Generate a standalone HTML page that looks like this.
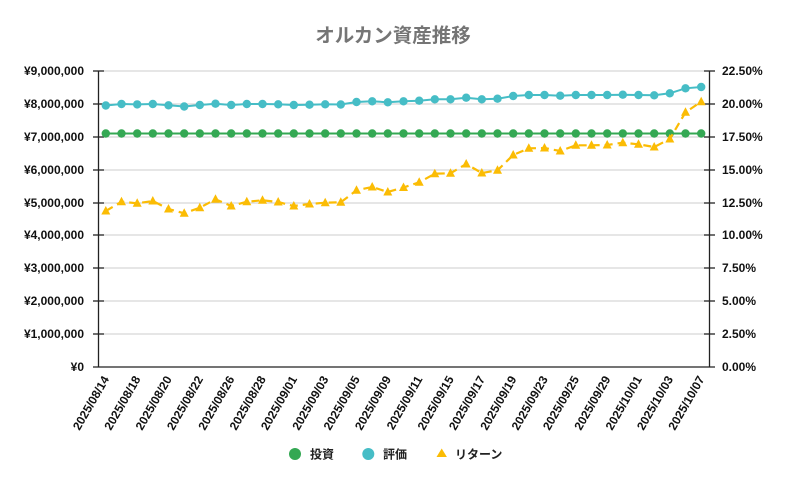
<!DOCTYPE html>
<html><head><meta charset="utf-8"><style>
html,body{margin:0;padding:0;background:#fff;}
svg{display:block;}
text{font-family:"Liberation Sans","Noto Sans CJK JP",sans-serif;}
</style></head><body>
<svg width="786" height="485" viewBox="0 0 786 485" xmlns="http://www.w3.org/2000/svg">
<rect width="786" height="485" fill="#fff"/>
<text x="393" y="42" text-anchor="middle" font-size="19.5" font-weight="bold" fill="#757575" style="font-family:'Noto Sans CJK JP',sans-serif">オルカン資産推移</text>
<g stroke="#cccccc" stroke-width="1">
<line x1="98" y1="71" x2="710" y2="71"/><line x1="98" y1="104" x2="710" y2="104"/><line x1="98" y1="137" x2="710" y2="137"/><line x1="98" y1="170" x2="710" y2="170"/><line x1="98" y1="203" x2="710" y2="203"/><line x1="98" y1="235" x2="710" y2="235"/><line x1="98" y1="268" x2="710" y2="268"/><line x1="98" y1="301" x2="710" y2="301"/><line x1="98" y1="334" x2="710" y2="334"/>
</g>
<g stroke="#222" stroke-width="1.3">
<line x1="98.5" y1="71" x2="98.5" y2="367"/><line x1="709.5" y1="71" x2="709.5" y2="367"/><line x1="93" y1="367" x2="715" y2="367"/>
<line x1="93" y1="71" x2="104" y2="71"/><line x1="93" y1="104" x2="104" y2="104"/><line x1="93" y1="137" x2="104" y2="137"/><line x1="93" y1="170" x2="104" y2="170"/><line x1="93" y1="203" x2="104" y2="203"/><line x1="93" y1="235" x2="104" y2="235"/><line x1="93" y1="268" x2="104" y2="268"/><line x1="93" y1="301" x2="104" y2="301"/><line x1="93" y1="334" x2="104" y2="334"/>
<line x1="704" y1="71" x2="715" y2="71"/><line x1="704" y1="104" x2="715" y2="104"/><line x1="704" y1="137" x2="715" y2="137"/><line x1="704" y1="170" x2="715" y2="170"/><line x1="704" y1="203" x2="715" y2="203"/><line x1="704" y1="235" x2="715" y2="235"/><line x1="704" y1="268" x2="715" y2="268"/><line x1="704" y1="301" x2="715" y2="301"/><line x1="704" y1="334" x2="715" y2="334"/>
</g>
<g font-size="12" font-weight="bold" fill="#111" text-anchor="end">
<text x="84" y="75">¥9,000,000</text><text x="84" y="108">¥8,000,000</text><text x="84" y="141">¥7,000,000</text><text x="84" y="174">¥6,000,000</text><text x="84" y="207">¥5,000,000</text><text x="84" y="239">¥4,000,000</text><text x="84" y="272">¥3,000,000</text><text x="84" y="305">¥2,000,000</text><text x="84" y="338">¥1,000,000</text><text x="84" y="371">¥0</text>
</g>
<g font-size="12" font-weight="bold" fill="#111">
<text x="722" y="75">22.50%</text><text x="722" y="108">20.00%</text><text x="722" y="141">17.50%</text><text x="722" y="174">15.00%</text><text x="722" y="207">12.50%</text><text x="722" y="239">10.00%</text><text x="722" y="272">7.50%</text><text x="722" y="305">5.00%</text><text x="722" y="338">2.50%</text><text x="722" y="371">0.00%</text>
</g>
<g font-size="12" font-weight="bold" fill="#111" text-anchor="end">
<text x="109.5" y="379" transform="rotate(-60 109.5 379)">2025/08/14</text>
<text x="140.9" y="379" transform="rotate(-60 140.9 379)">2025/08/18</text>
<text x="172.2" y="379" transform="rotate(-60 172.2 379)">2025/08/20</text>
<text x="203.5" y="379" transform="rotate(-60 203.5 379)">2025/08/22</text>
<text x="234.9" y="379" transform="rotate(-60 234.9 379)">2025/08/26</text>
<text x="266.2" y="379" transform="rotate(-60 266.2 379)">2025/08/28</text>
<text x="297.5" y="379" transform="rotate(-60 297.5 379)">2025/09/01</text>
<text x="328.9" y="379" transform="rotate(-60 328.9 379)">2025/09/03</text>
<text x="360.2" y="379" transform="rotate(-60 360.2 379)">2025/09/05</text>
<text x="391.5" y="379" transform="rotate(-60 391.5 379)">2025/09/09</text>
<text x="422.9" y="379" transform="rotate(-60 422.9 379)">2025/09/11</text>
<text x="454.2" y="379" transform="rotate(-60 454.2 379)">2025/09/15</text>
<text x="485.5" y="379" transform="rotate(-60 485.5 379)">2025/09/17</text>
<text x="516.9" y="379" transform="rotate(-60 516.9 379)">2025/09/19</text>
<text x="548.2" y="379" transform="rotate(-60 548.2 379)">2025/09/23</text>
<text x="579.5" y="379" transform="rotate(-60 579.5 379)">2025/09/25</text>
<text x="610.9" y="379" transform="rotate(-60 610.9 379)">2025/09/29</text>
<text x="642.2" y="379" transform="rotate(-60 642.2 379)">2025/10/01</text>
<text x="673.5" y="379" transform="rotate(-60 673.5 379)">2025/10/03</text>
<text x="704.9" y="379" transform="rotate(-60 704.9 379)">2025/10/07</text>
</g>
<!-- green invest -->
<polyline fill="none" stroke="#34A853" stroke-width="2" points="105.8,133.5 701.2,133.5"/>
<g fill="#34A853">
<circle cx="105.8" cy="133.5" r="4.2"/><circle cx="121.5" cy="133.5" r="4.2"/><circle cx="137.2" cy="133.5" r="4.2"/><circle cx="152.8" cy="133.5" r="4.2"/><circle cx="168.5" cy="133.5" r="4.2"/><circle cx="184.2" cy="133.5" r="4.2"/><circle cx="199.8" cy="133.5" r="4.2"/><circle cx="215.5" cy="133.5" r="4.2"/><circle cx="231.2" cy="133.5" r="4.2"/><circle cx="246.8" cy="133.5" r="4.2"/><circle cx="262.5" cy="133.5" r="4.2"/><circle cx="278.2" cy="133.5" r="4.2"/><circle cx="293.8" cy="133.5" r="4.2"/><circle cx="309.5" cy="133.5" r="4.2"/><circle cx="325.2" cy="133.5" r="4.2"/><circle cx="340.8" cy="133.5" r="4.2"/><circle cx="356.5" cy="133.5" r="4.2"/><circle cx="372.2" cy="133.5" r="4.2"/><circle cx="387.8" cy="133.5" r="4.2"/><circle cx="403.5" cy="133.5" r="4.2"/><circle cx="419.2" cy="133.5" r="4.2"/><circle cx="434.8" cy="133.5" r="4.2"/><circle cx="450.5" cy="133.5" r="4.2"/><circle cx="466.2" cy="133.5" r="4.2"/><circle cx="481.8" cy="133.5" r="4.2"/><circle cx="497.5" cy="133.5" r="4.2"/><circle cx="513.2" cy="133.5" r="4.2"/><circle cx="528.8" cy="133.5" r="4.2"/><circle cx="544.5" cy="133.5" r="4.2"/><circle cx="560.2" cy="133.5" r="4.2"/><circle cx="575.8" cy="133.5" r="4.2"/><circle cx="591.5" cy="133.5" r="4.2"/><circle cx="607.2" cy="133.5" r="4.2"/><circle cx="622.8" cy="133.5" r="4.2"/><circle cx="638.5" cy="133.5" r="4.2"/><circle cx="654.2" cy="133.5" r="4.2"/><circle cx="669.8" cy="133.5" r="4.2"/><circle cx="685.5" cy="133.5" r="4.2"/><circle cx="701.2" cy="133.5" r="4.2"/>
</g>
<!-- teal valuation -->
<polyline fill="none" stroke="#46BDC6" stroke-width="2" points="105.8,105.5 121.5,104 137.2,104.4 152.8,104 168.5,105.3 184.2,106.5 199.8,105 215.5,103.7 231.2,105 246.8,104 262.5,104 278.2,104.3 293.8,105 309.5,104.7 325.2,104.3 340.8,104.5 356.5,102 372.2,101.3 387.8,102.3 403.5,101.3 419.2,100.7 434.8,99.3 450.5,99.3 466.2,97.7 481.8,99.3 497.5,98.7 513.2,96 528.8,95 544.5,95 560.2,95.7 575.8,95 591.5,95 607.2,95 622.8,94.7 638.5,95 654.2,95.3 669.8,93.3 685.5,88.3 701.2,87"/>
<g fill="#46BDC6">
<circle cx="105.8" cy="105.5" r="4.2"/><circle cx="121.5" cy="104" r="4.2"/><circle cx="137.2" cy="104.4" r="4.2"/><circle cx="152.8" cy="104" r="4.2"/><circle cx="168.5" cy="105.3" r="4.2"/><circle cx="184.2" cy="106.5" r="4.2"/><circle cx="199.8" cy="105" r="4.2"/><circle cx="215.5" cy="103.7" r="4.2"/><circle cx="231.2" cy="105" r="4.2"/><circle cx="246.8" cy="104" r="4.2"/><circle cx="262.5" cy="104" r="4.2"/><circle cx="278.2" cy="104.3" r="4.2"/><circle cx="293.8" cy="105" r="4.2"/><circle cx="309.5" cy="104.7" r="4.2"/><circle cx="325.2" cy="104.3" r="4.2"/><circle cx="340.8" cy="104.5" r="4.2"/><circle cx="356.5" cy="102" r="4.2"/><circle cx="372.2" cy="101.3" r="4.2"/><circle cx="387.8" cy="102.3" r="4.2"/><circle cx="403.5" cy="101.3" r="4.2"/><circle cx="419.2" cy="100.7" r="4.2"/><circle cx="434.8" cy="99.3" r="4.2"/><circle cx="450.5" cy="99.3" r="4.2"/><circle cx="466.2" cy="97.7" r="4.2"/><circle cx="481.8" cy="99.3" r="4.2"/><circle cx="497.5" cy="98.7" r="4.2"/><circle cx="513.2" cy="96" r="4.2"/><circle cx="528.8" cy="95" r="4.2"/><circle cx="544.5" cy="95" r="4.2"/><circle cx="560.2" cy="95.7" r="4.2"/><circle cx="575.8" cy="95" r="4.2"/><circle cx="591.5" cy="95" r="4.2"/><circle cx="607.2" cy="95" r="4.2"/><circle cx="622.8" cy="94.7" r="4.2"/><circle cx="638.5" cy="95" r="4.2"/><circle cx="654.2" cy="95.3" r="4.2"/><circle cx="669.8" cy="93.3" r="4.2"/><circle cx="685.5" cy="88.3" r="4.2"/><circle cx="701.2" cy="87" r="4.2"/>
</g>
<!-- yellow return -->
<polyline fill="none" stroke="#FBBC04" stroke-width="2.2" stroke-dasharray="8,5" points="105.8,211 121.5,201.7 137.2,203.3 152.8,201 168.5,209 184.2,213.3 199.8,207.7 215.5,199.3 231.2,206 246.8,201.7 262.5,200.3 278.2,202 293.8,206 309.5,204 325.2,202.7 340.8,202.3 356.5,190.3 372.2,187 387.8,192 403.5,187.5 419.2,182.3 434.8,173.7 450.5,173.3 466.2,164 481.8,173 497.5,170.3 513.2,155 528.8,148.3 544.5,148 560.2,151 575.8,145.3 591.5,145.3 607.2,145 622.8,142.7 638.5,144.3 654.2,147 669.8,139 685.5,112.3 701.2,101.7"/>
<g fill="#FBBC04">
<polygon points="105.8,206 101.3,214.5 110.3,214.5"/>
<polygon points="121.5,196.7 117,205.2 126,205.2"/>
<polygon points="137.2,198.3 132.7,206.8 141.7,206.8"/>
<polygon points="152.8,196 148.3,204.5 157.3,204.5"/>
<polygon points="168.5,204 164,212.5 173,212.5"/>
<polygon points="184.2,208.3 179.7,216.8 188.7,216.8"/>
<polygon points="199.8,202.7 195.3,211.2 204.3,211.2"/>
<polygon points="215.5,194.3 211,202.8 220,202.8"/>
<polygon points="231.2,201 226.7,209.5 235.7,209.5"/>
<polygon points="246.8,196.7 242.3,205.2 251.3,205.2"/>
<polygon points="262.5,195.3 258,203.8 267,203.8"/>
<polygon points="278.2,197 273.7,205.5 282.7,205.5"/>
<polygon points="293.8,201 289.3,209.5 298.3,209.5"/>
<polygon points="309.5,199 305,207.5 314,207.5"/>
<polygon points="325.2,197.7 320.7,206.2 329.7,206.2"/>
<polygon points="340.8,197.3 336.3,205.8 345.3,205.8"/>
<polygon points="356.5,185.3 352,193.8 361,193.8"/>
<polygon points="372.2,182 367.7,190.5 376.7,190.5"/>
<polygon points="387.8,187 383.3,195.5 392.3,195.5"/>
<polygon points="403.5,182.5 399,191 408,191"/>
<polygon points="419.2,177.3 414.7,185.8 423.7,185.8"/>
<polygon points="434.8,168.7 430.3,177.2 439.3,177.2"/>
<polygon points="450.5,168.3 446,176.8 455,176.8"/>
<polygon points="466.2,159 461.7,167.5 470.7,167.5"/>
<polygon points="481.8,168 477.3,176.5 486.3,176.5"/>
<polygon points="497.5,165.3 493,173.8 502,173.8"/>
<polygon points="513.2,150 508.7,158.5 517.7,158.5"/>
<polygon points="528.8,143.3 524.3,151.8 533.3,151.8"/>
<polygon points="544.5,143 540,151.5 549,151.5"/>
<polygon points="560.2,146 555.7,154.5 564.7,154.5"/>
<polygon points="575.8,140.3 571.3,148.8 580.3,148.8"/>
<polygon points="591.5,140.3 587,148.8 596,148.8"/>
<polygon points="607.2,140 602.7,148.5 611.7,148.5"/>
<polygon points="622.8,137.7 618.3,146.2 627.3,146.2"/>
<polygon points="638.5,139.3 634,147.8 643,147.8"/>
<polygon points="654.2,142 649.7,150.5 658.7,150.5"/>
<polygon points="669.8,134 665.3,142.5 674.3,142.5"/>
<polygon points="685.5,107.3 681,115.8 690,115.8"/>
<polygon points="701.2,96.7 696.7,105.2 705.7,105.2"/>
</g>
<!-- legend -->
<circle cx="295" cy="454" r="6" fill="#34A853"/>
<text x="310" y="458.5" font-size="12" font-weight="bold" fill="#222">投資</text>
<circle cx="368.3" cy="454" r="6" fill="#46BDC6"/>
<text x="383" y="458.5" font-size="12" font-weight="bold" fill="#222">評価</text>
<polygon points="441.7,448.5 436.5,457 446.9,457" fill="#FBBC04"/>
<text x="455" y="458.5" font-size="12" font-weight="bold" fill="#222">リターン</text>
</svg>
</body></html>
